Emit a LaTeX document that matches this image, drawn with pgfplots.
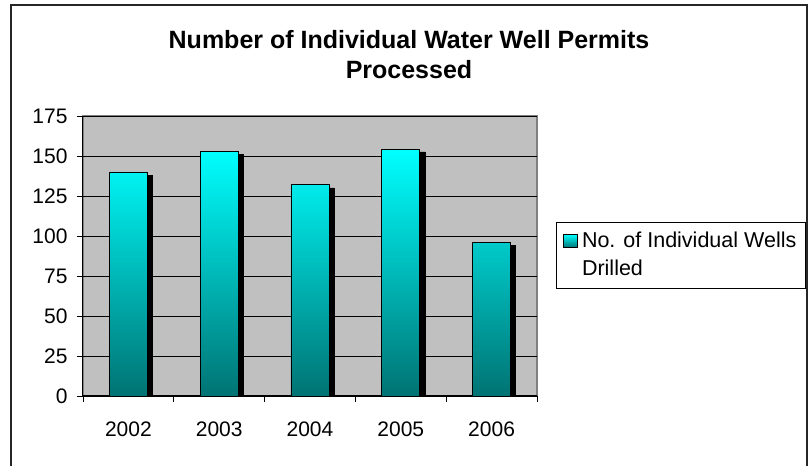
\documentclass[border=0pt]{standalone}
\usepackage{fontspec}
\setmainfont{Liberation Sans}
\usepackage{pgfplots}
\pgfplotsset{compat=1.18}
\definecolor{plotgray}{RGB}{192,192,192}
\definecolor{bordergray}{RGB}{128,128,128}
\definecolor{barcyan}{RGB}{0,255,255}
\definecolor{barteal}{RGB}{0,115,115}
\begin{document}
\begin{tikzpicture}[x=1pt,y=1pt]
\useasboundingbox (0,0) rectangle (812,466);
\begin{axis}[
  at={(83pt,70pt)}, anchor=south west,
  scale only axis, width=454pt, height=280pt,
  xmin=-0.5, xmax=4.5, ymin=0, ymax=175,
  ytick={0,25,...,175},
  xtick={0,1,2,3,4},
  xticklabels={2002,2003,2004,2005,2006},
  minor xtick={-0.5,0.5,1.5,2.5,3.5,4.5},
  major x tick style={draw=none},
  tick align=outside,
  major tick length=6pt, minor tick length=6pt,
  axis x line*=bottom, axis y line*=left,
  axis line style={black, line width=1pt},
  tick style={black, line width=0.8pt},
  axis background/.style={fill=plotgray, draw=bordergray, line width=1.5pt},
  ymajorgrids, grid style={black, line width=0.8pt},
  /pgf/number format/assume math mode=true,
  ticklabel style={font=\fontsize{21}{25}\selectfont},
  yticklabel style={xshift=-6pt},
  xticklabel style={yshift=-16pt},
  ybar, bar width=38pt,
  legend style={at={(axis description cs:1.0419,0.621)}, anchor=north west,
    draw=black, line width=0.8pt, inner xsep=7pt, inner ysep=3pt,
    nodes={inner sep=2pt, text depth={}, text height={}}, column sep=2pt,
    font=\fontsize{21.5}{28}\selectfont, legend cell align=left},
  legend image code/.code={\path[draw=none, opacity=0, fill opacity=0] (0pt,-21.4pt) rectangle (14pt,21.4pt);
    \draw[top color=barcyan, bottom color=barteal, draw=black, line width=0.6pt] (0pt,8pt) rectangle (14pt,21pt);},
]
\addplot[fill=black, draw=black, bar shift=5pt, forget plot] coordinates {(0,138) (1,151) (2,130) (3,152.5) (4,94)};
\addplot[top color=barcyan, bottom color=barteal, draw=black, line width=0.8pt, bar shift=0pt] coordinates {(0,140) (1,153) (2,132) (3,154) (4,96)};
\addlegendentry{\begin{tabular}{@{}l@{}}No. of Individual Wells\\Drilled\end{tabular}}
\end{axis}
\draw[line width=1.5pt, black!85] (11,-5) -- (11,461) -- (807,461) -- (807,-5);
\node[font=\bfseries\fontsize{25}{30}\selectfont, align=center, anchor=base] at (409,387) {Number of Individual Water Well Permits\\Processed};
\end{tikzpicture}
\end{document}
